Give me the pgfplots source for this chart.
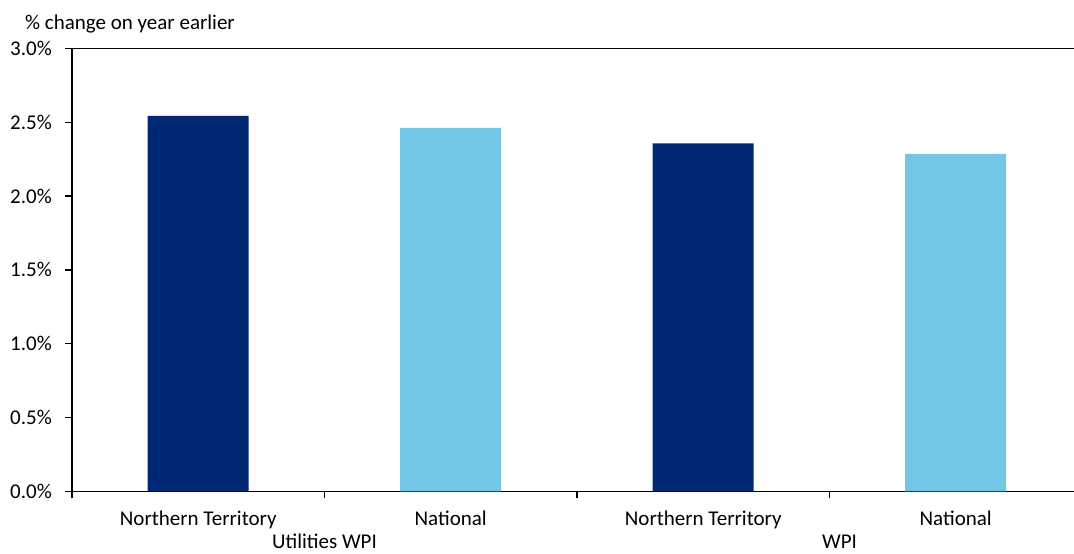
\documentclass[border=0pt]{standalone}
\usepackage{pgfplots}
\pgfplotsset{compat=1.18}
\usepackage{fontspec}
\setmainfont{Carlito}
\definecolor{navy}{RGB}{0,40,115}
\definecolor{sky}{RGB}{115,199,230}
\newcommand{\lblfont}{\fontsize{21}{25}\selectfont}
\begin{document}
\begin{tikzpicture}[x=1pt,y=1pt]
\useasboundingbox (0,0) rectangle (1074,554);
\node[anchor=base west,inner sep=0pt,font=\lblfont] at (25,524) {\% change on year earlier};
\begin{axis}[
  at={(72pt,62.5pt)}, anchor=south west, scale only axis,
  width=1010pt, height=443.2pt,
  xmin=-0.5, xmax=3.5, ymin=0, ymax=3,
  axis x line=bottom, axis y line=left,
  axis line style={-, line width=1.3pt, black},
  xtick={-0.5,0.5,1.5,2.5}, xticklabels={},
  ytick={0,0.5,1,1.5,2,2.5,3},
  yticklabels={0.0\%,0.5\%,1.0\%,1.5\%,2.0\%,2.5\%,3.0\%},
  tick align=outside, major tick length=7pt,
  tick style={line width=1.3pt, black},
  tick label style={font=\lblfont},
  yticklabel style={anchor=east, inner sep=0pt, xshift=-13pt},
  clip=false,
]
\addplot[ybar, bar width=101pt, bar shift=0pt, fill=navy, draw=none] coordinates {(0,2.542) (2,2.357)};
\addplot[ybar, bar width=101pt, bar shift=0pt, fill=sky, draw=none] coordinates {(1,2.461) (3,2.285)};
\draw[line width=1.3pt] (rel axis cs:0,1) -- (rel axis cs:1,1);
\node[anchor=base, font=\lblfont, inner sep=0pt, yshift=-34.5pt] at (axis cs:0,0) {Northern Territory};
\node[anchor=base, font=\lblfont, inner sep=0pt, yshift=-34.5pt] at (axis cs:1,0) {National};
\node[anchor=base, font=\lblfont, inner sep=0pt, yshift=-34.5pt] at (axis cs:2,0) {Northern Territory};
\node[anchor=base, font=\lblfont, inner sep=0pt, yshift=-34.5pt] at (axis cs:3,0) {National};
\node[anchor=base, font=\lblfont, inner sep=0pt, yshift=-57.5pt] at (axis cs:0.5,0) {Utilities WPI};
\node[anchor=base, font=\lblfont, inner sep=0pt, yshift=-57.5pt] at (axis cs:2.54,0) {WPI};
\end{axis}
\end{tikzpicture}
\end{document}
